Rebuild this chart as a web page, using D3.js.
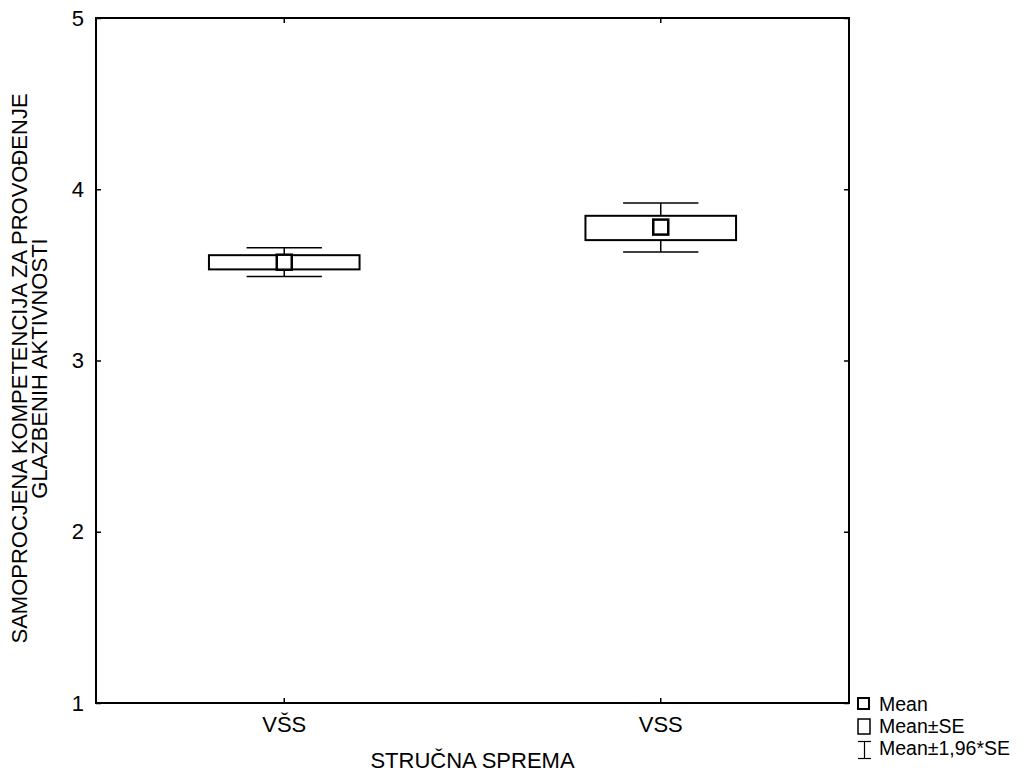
<!DOCTYPE html>
<html>
<head>
<meta charset="utf-8">
<script src="https://cdn.jsdelivr.net/npm/d3@7"></script>
<style>
  body { margin: 0; background: #fff; }
  text { font-family: "Liberation Sans", Arial, sans-serif; fill: #000; }
</style>
</head>
<body>
<svg width="1036" height="773"></svg>
<script>
// data
const categories = ['VŠS', 'VSS'];
const means = [3.574, 3.779];
const seLow = [3.532, 3.703];
const seHigh = [3.615, 3.845];
const ciLow = [3.491, 3.633];
const ciHigh = [3.658, 3.919];
const yTicks = [1, 2, 3, 4, 5];

const data = categories.map((c, i) => ({
    cat: c, mean: means[i], seLo: seLow[i], seHi: seHigh[i], ciLo: ciLow[i], ciHi: ciHigh[i]
}));

const svg = d3.select('svg');
const margin = { top: 18, right: 187, bottom: 70, left: 96 };
const W = 1036, H = 773;
const fs = 22;

const x = d3.scaleBand()
    .domain(categories)
    .range([margin.left, W - margin.right])
    .padding(0);

const y = d3.scaleLinear()
    .domain([1, 5])
    .range([H - margin.bottom, margin.top]);

const cx = d => x(d.cat) + x.bandwidth() / 2;
const boxW = x.bandwidth() * 0.4;
const whiskW = x.bandwidth() * 0.2;

// frame
svg.append('rect')
    .attr('x', margin.left).attr('y', margin.top)
    .attr('width', W - margin.left - margin.right)
    .attr('height', H - margin.top - margin.bottom)
    .attr('fill', 'none').attr('stroke', '#000').attr('stroke-width', 2);

// axes with inward ticks
const axLeft = svg.append('g')
    .attr('transform', `translate(${margin.left},0)`)
    .call(d3.axisLeft(y).tickValues(yTicks).tickSize(-5).tickPadding(12).tickFormat(d3.format('d')));
const axRight = svg.append('g')
    .attr('transform', `translate(${W - margin.right},0)`)
    .call(d3.axisRight(y).tickValues(yTicks).tickSize(-5).tickFormat(''));
const axBottom = svg.append('g')
    .attr('transform', `translate(0,${H - margin.bottom})`)
    .call(d3.axisBottom(x).tickSize(-5).tickPadding(13));
const axTop = svg.append('g')
    .attr('transform', `translate(0,${margin.top})`)
    .call(d3.axisTop(x).tickSize(-5).tickFormat(''));

[axLeft, axRight, axBottom, axTop].forEach(a => {
    a.select('.domain').remove();
    a.selectAll('line').attr('stroke', '#000').attr('stroke-width', 1.5);
    a.selectAll('text').style('font-size', fs + 'px').style('font-family', '"Liberation Sans", Arial, sans-serif');
});

// whiskers (Mean±1,96*SE)
const g = svg.append('g');
g.selectAll('.stem')
    .data(data).enter().append('line')
    .attr('x1', cx).attr('x2', cx)
    .attr('y1', d => y(d.ciLo)).attr('y2', d => y(d.ciHi))
    .attr('stroke', '#000').attr('stroke-width', 1.5);
g.selectAll('.capHi')
    .data(data).enter().append('line')
    .attr('x1', d => cx(d) - whiskW / 2).attr('x2', d => cx(d) + whiskW / 2)
    .attr('y1', d => y(d.ciHi)).attr('y2', d => y(d.ciHi))
    .attr('stroke', '#000').attr('stroke-width', 1.5);
g.selectAll('.capLo')
    .data(data).enter().append('line')
    .attr('x1', d => cx(d) - whiskW / 2).attr('x2', d => cx(d) + whiskW / 2)
    .attr('y1', d => y(d.ciLo)).attr('y2', d => y(d.ciLo))
    .attr('stroke', '#000').attr('stroke-width', 1.5);

// SE boxes
g.selectAll('.box')
    .data(data).enter().append('rect')
    .attr('x', d => cx(d) - boxW / 2)
    .attr('y', d => y(d.seHi))
    .attr('width', boxW)
    .attr('height', d => y(d.seLo) - y(d.seHi))
    .attr('fill', '#fff').attr('stroke', '#000').attr('stroke-width', 2);

// mean markers
g.selectAll('.mean')
    .data(data).enter().append('rect')
    .attr('x', d => cx(d) - 7.5)
    .attr('y', d => y(d.mean) - 7.5)
    .attr('width', 15).attr('height', 15)
    .attr('fill', '#fff').attr('stroke', '#000').attr('stroke-width', 2.5);

// axis titles
svg.append('text')
    .attr('x', margin.left + (W - margin.left - margin.right) / 2)
    .attr('y', 768)
    .attr('text-anchor', 'middle')
    .style('font-size', fs + 'px')
    .text('STRUČNA SPREMA');

const yMid = (margin.top + H - margin.bottom) / 2;
svg.append('text')
    .attr('transform', `translate(27,${yMid + 8}) rotate(-90)`)
    .attr('text-anchor', 'middle')
    .style('font-size', fs + 'px')
    .text('SAMOPROCJENA KOMPETENCIJA ZA PROVOĐENJE');
svg.append('text')
    .attr('transform', `translate(47,${yMid + 8}) rotate(-90)`)
    .attr('text-anchor', 'middle')
    .style('font-size', fs + 'px')
    .text('GLAZBENIH AKTIVNOSTI');

// legend
const leg = svg.append('g').attr('transform', 'translate(857,0)');
leg.append('rect').attr('x', 1).attr('y', 698).attr('width', 11).attr('height', 11)
    .attr('fill', '#fff').attr('stroke', '#000').attr('stroke-width', 2);
leg.append('rect').attr('x', 1).attr('y', 719).attr('width', 12).attr('height', 15)
    .attr('fill', '#fff').attr('stroke', '#000').attr('stroke-width', 1.5);
leg.append('line').attr('x1', 7.5).attr('x2', 7.5).attr('y1', 741).attr('y2', 759).attr('stroke', '#000').attr('stroke-width', 1.2);
leg.append('line').attr('x1', 1).attr('x2', 14).attr('y1', 741.5).attr('y2', 741.5).attr('stroke', '#000').attr('stroke-width', 1.2);
leg.append('line').attr('x1', 1).attr('x2', 14).attr('y1', 758.5).attr('y2', 758.5).attr('stroke', '#000').attr('stroke-width', 1.2);
const legendLabels = ['Mean', 'Mean±SE', 'Mean±1,96*SE'];
leg.selectAll('.lt').data(legendLabels).enter().append('text')
    .attr('x', 22)
    .attr('y', (d, i) => 711 + i * 22)
    .style('font-size', '19.5px')
    .text(d => d);
</script>
</body>
</html>
